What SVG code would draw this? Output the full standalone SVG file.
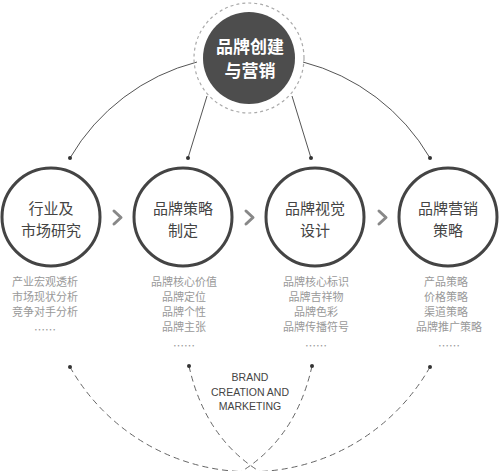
<svg xmlns="http://www.w3.org/2000/svg" width="500" height="471" viewBox="0 0 500 471">
<style>
.ring{fill:none;stroke:#444;stroke-width:3}
.t{font-family:"Noto Sans CJK SC","Noto Sans",sans-serif;font-size:15px;fill:#444;text-anchor:middle}
.s{font-family:"Noto Sans CJK SC","Noto Sans",sans-serif;font-size:11px;fill:#999;text-anchor:middle}
.c{font-family:"Noto Sans CJK SC","Noto Sans",sans-serif;font-size:17px;font-weight:bold;fill:#fff;text-anchor:middle}
.e{font-family:"Liberation Sans","Noto Sans",sans-serif;font-size:10.5px;fill:#444;text-anchor:middle}
.ln{fill:none;stroke:#555;stroke-width:1}
.dl{fill:none;stroke:#666;stroke-width:1;stroke-dasharray:6 4}
.dot{fill:#333}
.chev{fill:none;stroke:#888;stroke-width:3;stroke-linecap:round;stroke-linejoin:round}
</style>
<rect width="500" height="471" fill="#fff"/>
<g id="connectors">
<path class="ln" d="M70,158 A207,207 0 0 1 197,62"/>
<path class="ln" d="M430,158 A207,207 0 0 0 303,62"/>
<path class="ln" d="M188,158 L207,96"/>
<path class="ln" d="M311,158 L292,96"/>
<path class="dl" d="M70,367 A207,207 0 0 0 430,367"/>
<path class="dl" d="M189,366 Q207,447 275,480"/>
<path class="dl" d="M312,366 Q294,447 226,480"/>
<circle class="dot" cx="70" cy="158" r="2"/>
<circle class="dot" cx="188" cy="158" r="2"/>
<circle class="dot" cx="311" cy="158" r="2"/>
<circle class="dot" cx="430" cy="158" r="2"/>
<circle class="dot" cx="70" cy="367" r="2"/>
<circle class="dot" cx="189" cy="366" r="2"/>
<circle class="dot" cx="312" cy="366" r="2"/>
<circle class="dot" cx="430" cy="367" r="2"/>
<polyline class="chev" points="114,211 121,217.5 114,224"/>
<polyline class="chev" points="246,211 253,217.5 246,224"/>
<polyline class="chev" points="379,211 386,217.5 379,224"/>
</g>
<g id="center">
<circle cx="249" cy="58" r="55" fill="none" stroke="#aaa" stroke-width="1.2" stroke-dasharray="3 3"/>
<circle cx="249" cy="58" r="46" fill="#4d4d4d"/>
<text class="c" x="250" y="53">品牌创建</text>
<text class="c" x="250" y="77">与营销</text>
</g>
<g id="node1">
<circle class="ring" cx="51" cy="217" r="49"/>
<text class="t" x="51" y="214">行业及</text>
<text class="t" x="51" y="236">市场研究</text>
<text class="s" x="45" y="286">产业宏观透析</text>
<text class="s" x="45" y="301">市场现状分析</text>
<text class="s" x="45" y="316">竞争对手分析</text>
<text class="s" x="45" y="334">……</text>
</g>
<g id="node2">
<circle class="ring" cx="183" cy="217" r="49"/>
<text class="t" x="183" y="214">品牌策略</text>
<text class="t" x="183" y="236">制定</text>
<text class="s" x="184" y="286">品牌核心价值</text>
<text class="s" x="184" y="301">品牌定位</text>
<text class="s" x="184" y="316">品牌个性</text>
<text class="s" x="184" y="331">品牌主张</text>
<text class="s" x="184" y="350">……</text>
</g>
<g id="node3">
<circle class="ring" cx="315" cy="217" r="49"/>
<text class="t" x="315" y="214">品牌视觉</text>
<text class="t" x="315" y="236">设计</text>
<text class="s" x="316" y="286">品牌核心标识</text>
<text class="s" x="316" y="301">品牌吉祥物</text>
<text class="s" x="316" y="316">品牌色彩</text>
<text class="s" x="316" y="331">品牌传播符号</text>
<text class="s" x="316" y="350">……</text>
</g>
<g id="node4">
<circle class="ring" cx="448" cy="217" r="49"/>
<text class="t" x="448" y="214">品牌营销</text>
<text class="t" x="448" y="236">策略</text>
<text class="s" x="446" y="286">产品策略</text>
<text class="s" x="446" y="301">价格策略</text>
<text class="s" x="446" y="316">渠道策略</text>
<text class="s" x="449" y="331">品牌推广策略</text>
<text class="s" x="449" y="350">……</text>
</g>
<g id="label">
<text class="e" x="250" y="381">BRAND</text>
<text class="e" x="250" y="396">CREATION AND</text>
<text class="e" x="250" y="410">MARKETING</text>
</g>
</svg>
